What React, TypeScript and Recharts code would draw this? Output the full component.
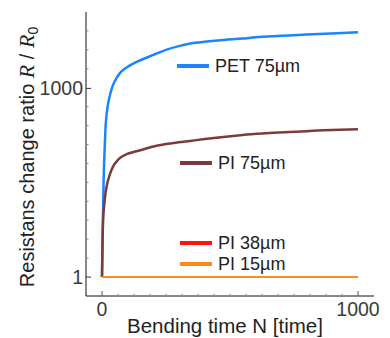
import React from "react";
import { Line, LineChart, XAxis, YAxis } from "recharts";

// bending count vs resistance ratio
const petN = [0, 3, 6, 10, 14, 20, 30, 40, 50, 70, 85, 100, 120, 150, 200, 250, 300, 350, 400, 475, 550, 600, 700, 800, 870, 940, 1000];
const petR = [1, 5, 30, 100, 250, 450, 750, 1050, 1300, 1750, 2000, 2200, 2450, 2800, 3400, 4100, 4700, 5200, 5500, 5900, 6200, 6500, 6850, 7200, 7400, 7600, 7800];

const pi75N = [0, 2, 4, 8, 14, 20, 30, 44, 65, 96, 130, 150, 213, 280, 344, 410, 474, 540, 604, 670, 734, 800, 864, 930, 1000];
const pi75R = [1, 4, 8, 13, 22, 30, 42, 58, 75, 90, 99, 104, 122, 135, 146, 158, 169, 180, 190, 197, 203, 209, 215, 220, 224];

const pi38N = [0, 1000];
const pi38R = [1, 1];
const pi15N = [0, 1000];
const pi15R = [1, 1];

const xMajor = [0, 1000];
const xTicks = [0, 62.5, 125, 187.5, 250, 312.5, 375, 437.5, 500, 562.5, 625, 687.5, 750, 812.5, 875, 937.5, 1000];
const yMajor = [1, 1000];
const yTicks = [1, 2, 4, 8, 16, 32, 64, 128, 256, 512, 1000, 2048, 4096, 8192];

const series = [
  { name: "PET 75µm", color: "#1a85ff", n: petN, r: petR, width: 2.5 },
  { name: "PI 75µm", color: "#7b3b3b", n: pi75N, r: pi75R, width: 2.5 },
  { name: "PI 38µm", color: "#ff1414", n: pi38N, r: pi38R, width: 2 },
  { name: "PI 15µm", color: "#ff8a1e", n: pi15N, r: pi15R, width: 2 },
];

const legendPos = [
  { top: 66, left: 177 },
  { top: 163, left: 180 },
  { top: 243, left: 180 },
  { top: 264, left: 180 },
];

const font = "'Liberation Sans', Arial, sans-serif";

function LeftTick({ x, y, payload }: any) {
  const major = yMajor.includes(payload.value);
  return (
    <g>
      <line x1={x} x2={x + (major ? 5 : 2.5)} y1={y} y2={y} stroke={major ? "#333" : "#888"} />
      {major && (
        <text x={x - 3} y={y} dy="0.36em" textAnchor="end" fontSize={19.5} fill="#3a3a3a" fontFamily={font}>
          {payload.value}
        </text>
      )}
    </g>
  );
}

function RightTick({ x, y, payload }: any) {
  const major = yMajor.includes(payload.value);
  return <line x1={x} x2={x - (major ? 6 : 2.5)} y1={y} y2={y} stroke={major ? "#555" : "#888"} />;
}

function BottomTick({ x, y, payload }: any) {
  const major = xMajor.includes(payload.value);
  return (
    <g>
      <line x1={x} x2={x} y1={y} y2={y - (major ? 5 : 2.5)} stroke={major ? "#555" : "#888"} />
      {major && (
        <text x={x} y={y + 20} textAnchor="middle" fontSize={19.5} fill="#3a3a3a" fontFamily={font}>
          {payload.value}
        </text>
      )}
    </g>
  );
}

function TopTick({ x, y, payload }: any) {
  const major = xMajor.includes(payload.value);
  return <line x1={x} x2={x} y1={y} y2={y + (major ? 5 : 2.5)} stroke={major ? "#666" : "#888"} />;
}

function YTitle() {
  return (
    <text
      x={34}
      y={157}
      transform="rotate(-90 34 157)"
      textAnchor="middle"
      fontSize={20}
      fill="#222"
      fontFamily={font}
    >
      Resistans change ratio{" "}
      <tspan fontStyle="italic" fontFamily="'Liberation Serif', serif" fontSize={22}>R</tspan>
      <tspan> / </tspan>
      <tspan fontStyle="italic" fontFamily="'Liberation Serif', serif" fontSize={22}>R</tspan>
      <tspan dy={4} fontSize={14}>0</tspan>
    </text>
  );
}

function XTitle() {
  return (
    <text x={225} y={333} textAnchor="middle" fontSize={20.5} fill="#222" fontFamily={font}>
      Bending time N [time]
    </text>
  );
}

export default function App() {
  return (
    <div style={{ position: "absolute", left: 0, top: 0, width: 390, height: 338, background: "#fff" }}>
      <LineChart width={390} height={338} margin={{ top: 12, right: 16, bottom: 0, left: 0 }}>
        <XAxis
          xAxisId="b"
          type="number"
          dataKey="n"
          domain={[-62.5, 1062.5]}
          ticks={xTicks}
          interval={0}
          height={42}
          tickSize={0}
          tickMargin={0}
          tickLine={false}
          stroke="#111"
          tick={<BottomTick />}
          allowDataOverflow
          label={() => <XTitle />}
        />
        <XAxis
          xAxisId="t"
          orientation="top"
          type="number"
          dataKey="n"
          domain={[-62.5, 1062.5]}
          ticks={xTicks}
          interval={0}
          height={0}
          tickSize={0}
          tickMargin={0}
          tickLine={false}
          stroke="#888"
          tick={<TopTick />}
          allowDataOverflow
        />
        <YAxis
          yAxisId="l"
          type="number"
          scale="log"
          domain={[0.5, 16384]}
          ticks={yTicks}
          interval={0}
          width={86}
          tickSize={0}
          tickMargin={0}
          tickLine={false}
          stroke="#111"
          tick={<LeftTick />}
          allowDataOverflow
          label={() => <YTitle />}
        />
        <YAxis
          yAxisId="r"
          orientation="right"
          type="number"
          scale="log"
          domain={[0.5, 16384]}
          ticks={yTicks}
          interval={0}
          width={0}
          tickSize={0}
          tickMargin={0}
          tickLine={false}
          stroke="#888"
          tick={<RightTick />}
          allowDataOverflow
        />
        {series.map((s) => (
          <Line
            key={s.name}
            xAxisId="b"
            yAxisId="l"
            data={s.n.map((n, i) => ({ n, r: s.r[i] }))}
            dataKey="r"
            type="monotone"
            stroke={s.color}
            strokeWidth={s.width}
            dot={false}
            isAnimationActive={false}
          />
        ))}
      </LineChart>
      {series.map((s, i) => (
        <div
          key={s.name}
          style={{
            position: "absolute",
            left: legendPos[i].left,
            top: legendPos[i].top - 11,
            height: 22,
            display: "flex",
            alignItems: "center",
            fontFamily: font,
            fontSize: 18,
            color: "#222",
            whiteSpace: "nowrap",
          }}
        >
          <span style={{ display: "inline-block", width: 32, height: 4, background: s.color, marginRight: 6 }} />
          <span>{s.name}</span>
        </div>
      ))}
    </div>
  );
}
